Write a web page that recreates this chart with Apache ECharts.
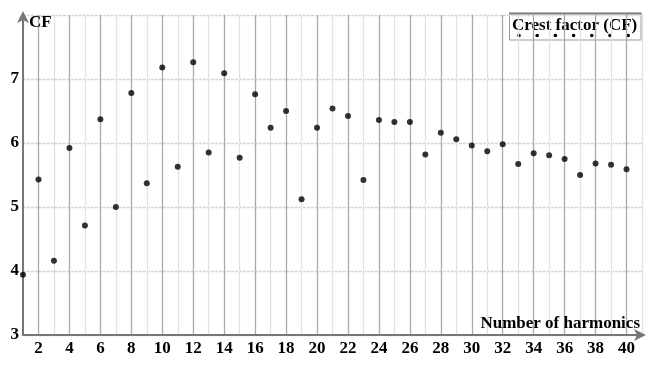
<!DOCTYPE html>
<html>
<head>
<meta charset="utf-8">
<script src="https://cdn.jsdelivr.net/npm/echarts@6/dist/echarts.min.js"></script>
<style>html,body{margin:0;padding:0;background:#fff;}#c{width:663px;height:372px;}</style>
</head>
<body>
<div id="c"></div>
<script>
const harmonics = [1,2,3,4,5,6,7,8,9,10,11,12,13,14,15,16,17,18,19,20,21,22,23,24,25,26,27,28,29,30,31,32,33,34,35,36,37,38,39,40];
const crestFactor = [3.94,5.43,4.16,5.92,4.71,6.37,5.00,6.78,5.37,7.18,5.63,7.26,5.85,7.09,5.77,6.76,6.24,6.50,5.12,6.24,6.54,6.42,5.42,6.36,6.33,6.33,5.82,6.16,6.06,5.96,5.87,5.98,5.67,5.84,5.81,5.75,5.50,5.68,5.66,5.59];
const seriesName = 'Crest factor (CF)';
const xAxisTitle = 'Number of harmonics';
const yAxisTitle = 'CF';
const yTicks = [3,4,5,6,7];

const FONT = '"Liberation Serif", "DejaVu Serif", serif';
const chart = echarts.init(document.getElementById('c'), null, {renderer:'canvas'});
const pts = harmonics.map((h,i)=>[h, crestFactor[i]]);

const legendDots = [];
for (let i=0;i<7;i++){
  legendDots.push({type:'circle', shape:{cx:519+i*18.2, cy:35.5, r:1.8}, style:{fill:'#000'}});
}

chart.setOption({
  animation:false,
  backgroundColor:'#fff',
  grid:{left:23, right:21, top:15, bottom:37, containLabel:false},
  xAxis:[{
    type:'value', min:1, max:41, interval:1,
    name:xAxisTitle, nameLocation:'end', nameGap:-2,
    nameTextStyle:{fontFamily:FONT, fontWeight:'bold', fontSize:17, color:'#000', align:'right', verticalAlign:'bottom', padding:[0,0,3,0]},
    axisLine:{show:true, onZero:false, symbol:['none','arrow'], symbolSize:[9,12], symbolOffset:[0,4], lineStyle:{color:'#777', width:2}},
    axisTick:{show:false},
    axisLabel:{fontFamily:FONT, fontWeight:'bold', fontSize:17, color:'#000', margin:5,
      formatter:v=> (v%2===0 && v<=40) ? String(v) : ''},
    splitLine:{show:true, lineStyle:{color:['#e2e2e2','#aaaaaa'], width:1.3, type:'solid'}}
  },{
    type:'value', min:1, max:41, interval:1, show:false,
    splitLine:{show:false}
  }],
  yAxis:{
    type:'value', min:3, max:8, interval:1,
    name:yAxisTitle, nameLocation:'end', nameGap:-8,
    nameTextStyle:{fontFamily:FONT, fontWeight:'bold', fontSize:17, color:'#000', align:'left', verticalAlign:'middle', padding:[0,0,0,6]},
    axisLine:{show:true, onZero:false, symbol:['none','arrow'], symbolSize:[9,12], symbolOffset:[0,4], lineStyle:{color:'#777', width:2}},
    axisTick:{show:false},
    axisLabel:{fontFamily:FONT, fontWeight:'bold', fontSize:17, color:'#000', margin:4,
      formatter:v=> yTicks.indexOf(v)>=0 ? String(v) : ''},
    splitLine:{show:true, lineStyle:{color:'#d6d6d6', width:1.3, type:[3,1]}}
  },
  series:[{
    name:seriesName, type:'scatter', data:pts, symbol:'circle', symbolSize:6,
    itemStyle:{color:'#000'}, z:5
  }],
  graphic:[{
    type:'group', z:100,
    children:[
      {type:'rect', shape:{x:509.5, y:13.5, width:131.5, height:26.5}, style:{fill:'#fff', stroke:'#999', lineWidth:1}},
      {type:'line', shape:{x1:509, y1:13.5, x2:641.5, y2:13.5}, style:{stroke:'#777', lineWidth:2}},
      {type:'text', x:512, y:17, style:{text:seriesName, fontFamily:FONT, fontWeight:'bold', fontSize:17, fill:'#000'}}
    ].concat(legendDots)
  }]
});
</script>
</body>
</html>
